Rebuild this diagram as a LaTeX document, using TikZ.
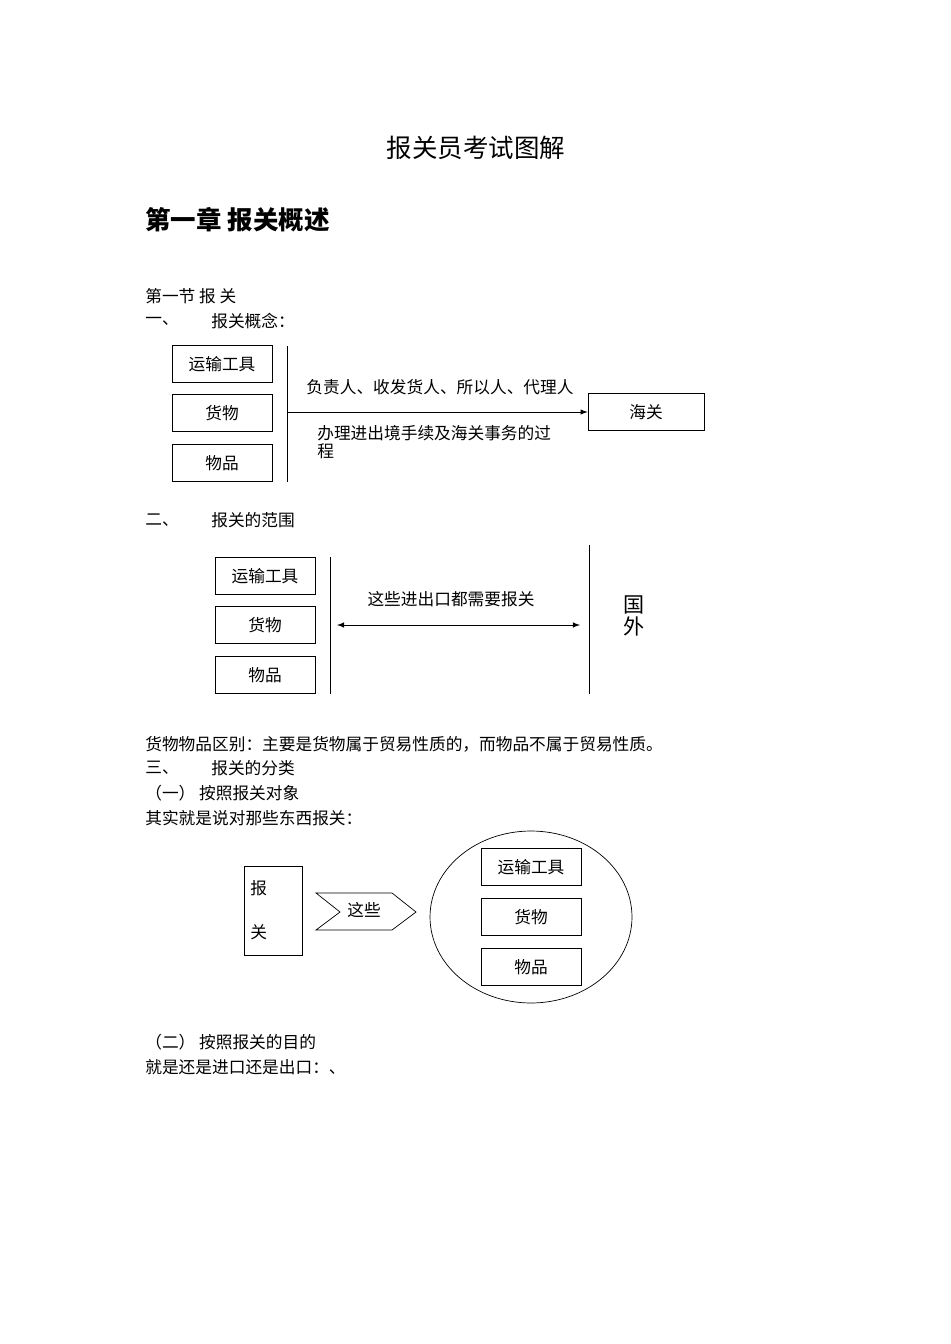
\documentclass[tikz,border=0pt]{standalone}
\usepackage{fontspec}
\setmainfont{Noto Sans CJK SC}
\usetikzlibrary{shapes.geometric}
\tikzstyle{item}=[draw,minimum width=2cm,minimum height=0.74cm,inner sep=0pt,font=\fontsize{9.5}{11}\selectfont]
\tikzstyle{txt}=[anchor=west,inner sep=0pt,font=\fontsize{9.5}{11}\selectfont]
\tikzstyle{link}=[draw,thin]

\begin{document}
\begin{tikzpicture}[x=0.02cm,y=-0.02cm]
    \useasboundingbox (0,0) rectangle (950,1344);
    % headings
    \node[inner sep=0pt,font=\fontsize{14.5}{16}\selectfont] (title) at (476,148) {报关员考试图解};
    \node[txt,font=\fontsize{14.5}{16}\selectfont\bfseries] (chap) at (145,220) {第一章\ 报关概述};
    \node[txt] (sec) at (145,296) {第一节\ 报\ 关};
    \node[txt] (n1) at (145,321) {一、};
    \node[txt] (t1) at (211,321) {报关概念：};
    % concept
    \node[item] (A1) at (222,364) {运输工具};
    \node[item] (A2) at (222,413) {货物};
    \node[item] (A3) at (222,463) {物品};
    \node[item,minimum width=2.32cm] (hg) at (646,412) {海关};
    \coordinate (b1) at (287,346);
    \coordinate (b2) at (287,482);
    \coordinate (m1) at (287,412);
    \path[link] (b1) -- (b2);
    \path[link,-latex] (m1) -- (hg.west);
    \node[inner sep=0pt,font=\fontsize{9.5}{11}\selectfont] (who) at (440,387) {负责人、收发货人、所以人、代理人};
    \node[txt,align=left,font=\fontsize{9.5}{10}\selectfont] (what) at (317,442) {办理进出境手续及海关事务的过\\程};
    % scope
    \node[txt] (n2) at (145,520) {二、};
    \node[txt] (t2) at (211,520) {报关的范围};
    \node[item] (B1) at (265,576) {运输工具};
    \node[item] (B2) at (265,625) {货物};
    \node[item] (B3) at (265,675) {物品};
    \coordinate (c1) at (330,557);
    \coordinate (c2) at (330,694);
    \coordinate (d1) at (589,545);
    \coordinate (d2) at (589,694);
    \coordinate (e1) at (337,625);
    \coordinate (e2) at (580,625);
    \path[link] (c1) -- (c2);
    \path[link] (d1) -- (d2);
    \path[link,latex-latex] (e1) -- (e2);
    \node[inner sep=0pt,font=\fontsize{9.5}{11}\selectfont] (all) at (451,599) {这些进出口都需要报关};
    \node[inner sep=0pt,align=center,font=\fontsize{12}{13}\selectfont] (abroad) at (634,616) {国\\外};
    % classification
    \node[txt] (diff) at (145,744) {货物物品区别：主要是货物属于贸易性质的，而物品不属于贸易性质。};
    \node[txt] (n3) at (145,768) {三、};
    \node[txt] (t3) at (211,768) {报关的分类};
    \node[txt] (k1) at (145,793) {（一）\ 按照报关对象};
    \node[txt] (k1a) at (145,818) {其实就是说对那些东西报关：};
    \node[draw,minimum width=1.16cm,minimum height=1.78cm] (bg) at (273,910.5) {};
    \node[txt] (bg1) at (250,888) {报};
    \node[txt] (bg2) at (250,932) {关};
    \draw (316,893) -- (392,893) -- (416,912) -- (392,930) -- (316,930) -- (340,912) -- cycle;
    \node[inner sep=0pt,font=\fontsize{9.5}{11}\selectfont] (these) at (364,910) {这些};
    \node[draw,ellipse,minimum width=4.04cm,minimum height=3.44cm] (set) at (531,917) {};
    \node[item] (C1) at (531,867) {运输工具};
    \node[item] (C2) at (531,917) {货物};
    \node[item] (C3) at (531,967) {物品};
    \node[txt] (k2) at (145,1042) {（二）\ 按照报关的目的};
    \node[txt] (k2a) at (145,1067) {就是还是进口还是出口：、};
\end{tikzpicture}
\end{document}
